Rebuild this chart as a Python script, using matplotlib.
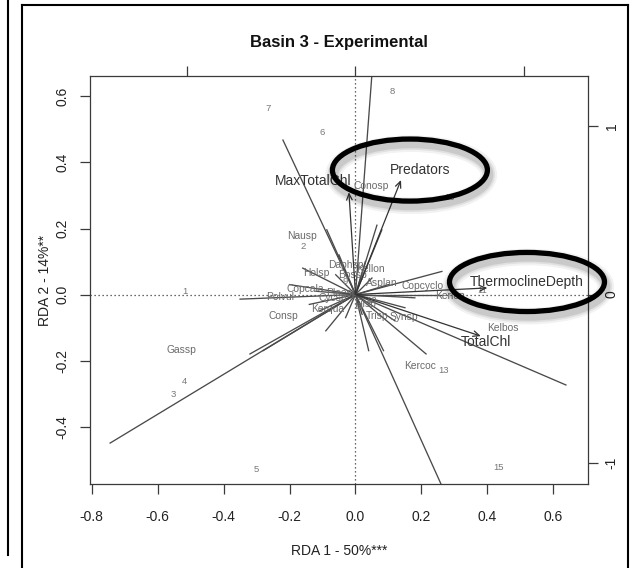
import matplotlib
matplotlib.use("Agg")
import matplotlib.pyplot as plt
from matplotlib.patches import Ellipse
from matplotlib.lines import Line2D

plt.rcParams['font.family'] = ['Liberation Sans', 'DejaVu Sans']

# ---------------- data ----------------
title = "Basin 3 - Experimental"
xlabel = "RDA 1 - 50%***"
ylabel = "RDA 2 - 14%**"
xticks = [-0.8, -0.6, -0.4, -0.2, 0.0, 0.2, 0.4, 0.6]
yticks = [-0.4, -0.2, 0.0, 0.2, 0.4, 0.6]
sec_ticks = [-1, 0, 1]
sec_labels = ["-1", "0", "1"]

site_labels = ["7", "8", "6", "2", "1", "4", "3", "5", "15", "13", "11", "10", "9", "12", "14"]
site_x = [-0.265, 0.111, -0.102, -0.159, -0.517, -0.520, -0.553, -0.302, 0.435, 0.268, 0.383, 0.286, -0.030, 0.050, 0.008]
site_y = [0.565, 0.614, 0.492, 0.144, 0.008, -0.262, -0.302, -0.529, -0.523, -0.229, 0.011, 0.295, 0.040, -0.017, -0.035]

species_names = ["Nausp", "Consp", "Gassp", "Polvul", "Kellon", "Copcyclo", "Kerlon", "Synsp",
                 "Trisp", "Kelbos", "Kercoc", "Conosp", "Holsp", "Copcala", "Daphsp", "Kerqua",
                 "Bossp", "Cycsp", "Asplan", "Ploesp", "Filsp"]
species_x = [-0.162, -0.220, -0.529, -0.229, 0.044, 0.202, 0.286, 0.147,
             0.065, 0.447, 0.195, 0.047, -0.120, -0.153, -0.030, -0.083,
             -0.010, -0.070, 0.080, -0.040, 0.030]
species_y = [0.177, -0.065, -0.168, -0.008, 0.077, 0.026, -0.005, -0.068,
             -0.065, -0.102, -0.217, 0.329, 0.065, 0.017, 0.090, -0.045,
             0.060, -0.012, 0.035, 0.005, -0.030]

vector_x = [-0.744, -0.320, -0.280, -0.220, 0.062, 0.280, 0.638, 0.214, 0.262, 0.260,
            -0.350, -0.160, -0.090, 0.065, 0.085, 0.040, -0.110, 0.120, -0.200, -0.087,
            0.080, -0.050, 0.030, 0.150, -0.140, 0.180, -0.060, 0.050, 0.100, -0.120,
            0.020, -0.030]
vector_y = [-0.450, -0.180, -0.170, 0.468, 0.830, -0.620, -0.274, -0.180, 0.070, 0.000,
            -0.014, 0.080, -0.110, 0.210, -0.170, -0.170, -0.050, -0.080, 0.030, 0.196,
            0.196, 0.120, 0.100, -0.040, -0.030, -0.010, 0.060, 0.050, 0.030, 0.010,
            -0.060, -0.070]

env_names = ["Predators", "MaxTotalChl", "ThermoclineDepth", "TotalChl"]
env_tip_x = [0.138, -0.020, 0.400, 0.380]
env_tip_y = [0.347, 0.310, 0.020, -0.126]
env_lab_x = [0.195, -0.129, 0.520, 0.395]
env_lab_y = [0.377, 0.344, 0.038, -0.144]

highlighted = ["Predators", "ThermoclineDepth"]

# ---------------- figure ----------------
W, H = 631, 568
fig = plt.figure(figsize=(W / 100, H / 100), dpi=100)
ax = fig.add_axes([90 / W, 1 - 484 / H, (588 - 90) / W, (484 - 76) / H])
ax.set_xlim(-0.805, 0.705)
ax.set_ylim(-0.574, 0.662)

dark = "#3a3a3a"
grey = "#6a6a6a"

ax.axhline(0, color=dark, lw=0.9, ls=(0, (1, 2.2)), zorder=1)
ax.axvline(0, color=dark, lw=0.9, ls=(0, (1, 2.2)), zorder=1)

for vx, vy in zip(vector_x, vector_y):
    ax.plot([0, vx], [0, vy], color="#4a4a4a", lw=0.95, zorder=2)

for lab, sx, sy in zip(site_labels, site_x, site_y):
    ax.text(sx, sy, lab, color="#777777", fontsize=6.8, ha="center", va="center", zorder=3)

for lab, sx, sy in zip(species_names, species_x, species_y):
    ax.text(sx, sy, lab, color=grey, fontsize=7.4, ha="center", va="center", zorder=3)

for name, tx, ty, lx, ly in zip(env_names, env_tip_x, env_tip_y, env_lab_x, env_lab_y):
    ax.annotate("", xy=(tx, ty), xytext=(0, 0),
                arrowprops=dict(arrowstyle="->,head_length=0.45,head_width=0.2",
                                color="#333333", lw=0.9, shrinkA=0, shrinkB=0), zorder=4)
    ax.text(lx, ly, name, color="#333333", fontsize=10, ha="center", va="center", zorder=4)

# highlight ellipses (annotation drawn on top of the chart)
for name, lx, ly in zip(env_names, env_lab_x, env_lab_y):
    if name in highlighted:
        cx = lx - 0.03 if name == "Predators" else lx
        h = 0.188 if name == "Predators" else 0.179
        for a, lw in [(0.05, 12), (0.07, 9), (0.1, 6.5)]:
            ax.add_patch(Ellipse((cx + 0.004, ly - 0.014), 0.47, h, fill=False,
                                 ec="black", lw=lw, alpha=a, clip_on=False, zorder=5))
        ax.add_patch(Ellipse((cx, ly), 0.47, h, fill=False, ec="black", lw=3.8,
                             clip_on=False, zorder=6))

ax.set_xticks(xticks)
ax.set_xticklabels([f"{t:.1f}" for t in xticks])
ax.set_yticks(yticks)
ax.set_yticklabels([f"{t:.1f}" for t in yticks], rotation=90, va="center")
ax.tick_params(direction="out", length=7, width=0.9, color=dark, labelsize=10,
               labelcolor="#222222")
ax.tick_params(axis="x", pad=12)
ax.tick_params(axis="y", pad=8)
for s in ax.spines.values():
    s.set_color(dark)
    s.set_linewidth(0.9)

k = 0.51
secx = ax.secondary_xaxis("top", functions=(lambda v: v / k, lambda v: v * k))
secx.set_xticks(sec_ticks)
secx.set_xticklabels([])
secx.tick_params(direction="out", length=7, width=0.9, color=dark)
secy = ax.secondary_yaxis("right", functions=(lambda v: v / k, lambda v: v * k))
secy.set_yticks(sec_ticks)
secy.set_yticklabels(sec_labels, rotation=90, va="center")
secy.tick_params(direction="out", length=7, width=0.9, color=dark, labelsize=10,
                 labelcolor="#222222", pad=5)
for sec in (secx, secy):
    for s in sec.spines.values():
        s.set_visible(False)

ax.set_xlabel(xlabel, fontsize=10, color="#222222", labelpad=14)
ax.set_ylabel(ylabel, fontsize=10, color="#222222", labelpad=2)
fig.text(339 / W, 1 - 43 / H, title, fontsize=12, fontweight="bold", ha="center",
         va="center", color="#111111")

# panel frames
def fl(xs, ys, lw=1.5):
    fig.add_artist(Line2D([x / W for x in xs], [1 - y / H for y in ys],
                          color="black", lw=lw))

fl([22, 22], [5, 568])
fl([22, 628], [5, 5])
fl([628, 628], [5, 568])
fl([8, 8], [0, 555])

fig.savefig("out.png", dpi=100)
